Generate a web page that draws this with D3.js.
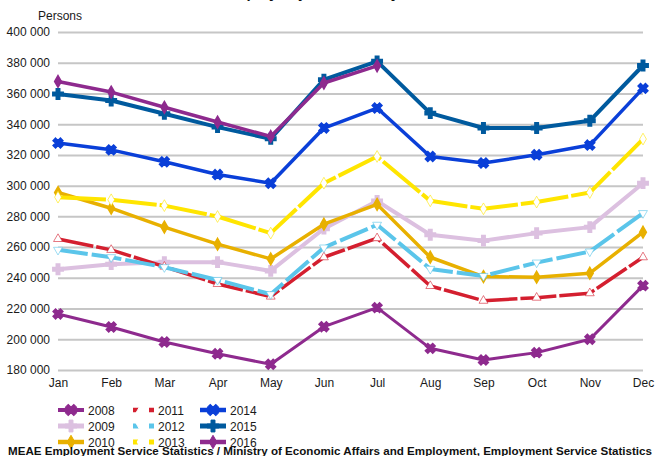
<!DOCTYPE html>
<html>
<head>
<meta charset="utf-8">
<script src="https://cdn.jsdelivr.net/npm/d3@7"></script>
<style>
	html, body { margin: 0; padding: 0; background: #fff; }
	body { width: 655px; height: 456px; overflow: hidden; font-family: "Liberation Sans", Arial, sans-serif; }
</style>
</head>
<body>
<div id="chart-holder"></div>
<script>
const months = ['Jan', 'Feb', 'Mar', 'Apr', 'May', 'Jun', 'Jul', 'Aug', 'Sep', 'Oct', 'Nov', 'Dec'];
const yTicks = [180000, 200000, 220000, 240000, 260000, 280000, 300000, 320000, 340000, 360000, 380000, 400000];

const y2008 = [216500, 208000, 198200, 190600, 183700, 208200, 220600, 194100, 186500, 191300, 200000, 234900];
const y2009 = [245600, 248900, 250200, 250200, 244500, 272000, 290000, 268000, 264200, 269100, 273000, 301600];
const y2010 = [295500, 285300, 273000, 261900, 252300, 274900, 287800, 253400, 240800, 240400, 243000, 269700];
const y2011 = [265300, 258200, 247300, 236000, 227800, 253400, 265800, 234700, 225100, 227100, 230000, 253400];
const y2012 = [258200, 253400, 246900, 238600, 229300, 259700, 274500, 245800, 241200, 249900, 257100, 282100];
const y2013 = [292500, 290800, 287000, 279900, 269100, 301600, 319000, 290100, 284900, 289300, 295500, 330300];
const y2014 = [327700, 323300, 315500, 307200, 301600, 337500, 350500, 319000, 314700, 320100, 326400, 363300];
const y2015 = [359600, 355400, 346800, 338100, 330500, 369000, 380900, 347200, 337500, 337500, 342200, 378200];
const y2016 = [367800, 360900, 351000, 341400, 332000, 366800, 378000];

// legend order: column by column
const series = [
	{name: '2008', values: y2008, color: '#8e2a8e', width: 3,   dash: null,    marker: 'x',        hollow: false},
	{name: '2009', values: y2009, color: '#dcc0e0', width: 4,   dash: null,    marker: 'plus',     hollow: false},
	{name: '2010', values: y2010, color: '#e8b000', width: 3.5, dash: null,    marker: 'diamond',  hollow: false},
	{name: '2011', values: y2011, color: '#d41f2f', width: 3.5, dash: '36,3',  marker: 'triangle', hollow: true},
	{name: '2012', values: y2012, color: '#5bc5ea', width: 4,   dash: '30,4',  marker: 'tridown',  hollow: true},
	{name: '2013', values: y2013, color: '#ffe500', width: 4,   dash: '48,3',  marker: 'diamond',  hollow: true},
	{name: '2014', values: y2014, color: '#0a3fd8', width: 3.5, dash: null,    marker: 'x',        hollow: false},
	{name: '2015', values: y2015, color: '#005a9e', width: 4,   dash: null,    marker: 'plus',     hollow: false},
	{name: '2016', values: y2016, color: '#8e2a8e', width: 3.5, dash: null,    marker: 'diamond',  hollow: false}
];

const W = 655, H = 456;
const margin = {top: 32, right: 12, bottom: 86, left: 58};

const svg = d3.select('#chart-holder').append('svg')
	.attr('width', W)
	.attr('height', H)
	.style('font-family', '"Liberation Sans", Arial, sans-serif');

const xScale = d3.scalePoint()
	.domain(months)
	.range([margin.left, W - margin.right]);

const yScale = d3.scaleLinear()
	.domain([180000, 400000])
	.range([H - margin.bottom, margin.top]);

const fmt = d3.formatLocale({decimal: '.', thousands: '\u00a0', grouping: [3], currency: ['', '']}).format(',');

// title, only its bottom edge shows in the picture
svg.append('text')
	.attr('x', 327)
	.attr('y', -2)
	.attr('text-anchor', 'middle')
	.attr('font-weight', 'bold')
	.attr('font-size', 15)
	.attr('fill', '#111')
	.text('Unemployed jobseekers by month');

// gridlines + y labels
const yAxis = d3.axisLeft(yScale)
	.tickValues(yTicks)
	.tickFormat(fmt)
	.tickSize(-(xScale.range()[1] - xScale.range()[0]))
	.tickPadding(8);

const yAxisG = svg.append('g')
	.attr('class', 'y-axis')
	.attr('transform', 'translate(' + margin.left + ',0)')
	.call(yAxis);
yAxisG.select('.domain').remove();
yAxisG.selectAll('line').attr('stroke', '#c6c6c6').attr('stroke-width', 2);
yAxisG.selectAll('text').attr('font-size', 12).attr('fill', '#1a1a1a')
	.attr('font-family', '"Liberation Sans", Arial, sans-serif');

svg.append('text')
	.attr('x', 38)
	.attr('y', 20)
	.attr('font-size', 12)
	.attr('fill', '#1a1a1a')
	.text('Persons');

// x labels
const xAxis = d3.axisBottom(xScale).tickSize(0).tickPadding(8);
const xAxisG = svg.append('g')
	.attr('class', 'x-axis')
	.attr('transform', 'translate(0,' + (H - margin.bottom) + ')')
	.call(xAxis);
xAxisG.select('.domain').remove();
xAxisG.selectAll('text').attr('font-size', 12).attr('fill', '#1a1a1a')
	.attr('font-family', '"Liberation Sans", Arial, sans-serif');

// marker shapes
function markerPath(type, scale) {
	const k = scale || 1;
	if (type === 'x' || type === 'plus') return d3.symbol().type(d3.symbolCross).size(60 * k)();
	if (type === 'diamond') return d3.symbol().type(d3.symbolDiamond).size(40 * k)();
	if (type === 'triangle' || type === 'tridown') return d3.symbol().type(d3.symbolTriangle).size(34 * k)();
	return d3.symbol().size(30 * k)();
}
function markerRot(type) {
	if (type === 'x') return 45;
	if (type === 'tridown') return 180;
	return 0;
}

const line = d3.line()
	.x((d, i) => xScale(months[i]))
	.y(d => yScale(d));

// lines, drawn oldest first
const plot = svg.append('g').attr('class', 'lines');
series.forEach(s => {
	const g = plot.append('g');
	g.append('path')
		.datum(s.values)
		.attr('fill', 'none')
		.attr('stroke', s.color)
		.attr('stroke-width', s.width)
		.attr('stroke-dasharray', s.dash)
		.attr('stroke-linejoin', 'round')
		.attr('d', line);
	g.selectAll('.mk').data(s.values)
		.enter().append('path')
		.attr('class', 'mk')
		.attr('d', markerPath(s.marker))
		.attr('transform', (d, i) => 'translate(' + xScale(months[i]) + ',' + yScale(d) + ') rotate(' + markerRot(s.marker) + ')')
		.attr('fill', s.hollow ? '#fff' : s.color)
		.attr('stroke', s.hollow ? s.color : s.color)
		.attr('stroke-width', s.hollow ? 0.6 : 1.5);
});

// legend
const legend = svg.append('g').attr('class', 'legend');
const legCols = [58, 128, 200];
const legRows = [410, 426, 442];
series.forEach((s, i) => {
	const lx = legCols[Math.floor(i / 3)];
	const ly = legRows[i % 3];
	const item = legend.append('g').attr('transform', 'translate(' + lx + ',' + ly + ')');
	item.append('line')
		.attr('x1', 0).attr('x2', 26)
		.attr('y1', 0).attr('y2', 0)
		.attr('stroke', s.color)
		.attr('stroke-width', s.width + 1)
		.attr('stroke-dasharray', s.dash ? '8,8' : null)
		.attr('stroke-dashoffset', s.dash ? -5 : null);
	item.append('path')
		.attr('d', markerPath(s.marker, 1.3))
		.attr('transform', 'translate(13,0) rotate(' + markerRot(s.marker) + ')')
		.attr('fill', s.hollow ? '#fff' : s.color)
		.attr('stroke', s.hollow ? '#fff' : s.color);
	item.append('text')
		.attr('x', 30)
		.attr('y', 4.5)
		.attr('font-size', 12)
		.attr('fill', '#1a1a1a')
		.text(s.name);
});

// source footer, overlapping the last legend row as in the original
svg.append('text')
	.attr('x', 8)
	.attr('y', 455)
	.attr('font-size', 11)
	.attr('font-weight', 'bold')
	.attr('fill', '#111')
	.attr('textLength', 644)
	.attr('lengthAdjust', 'spacingAndGlyphs')
	.text('MEAE Employment Service Statistics / Ministry of Economic Affairs and Employment, Employment Service Statistics');
</script>
</body>
</html>
